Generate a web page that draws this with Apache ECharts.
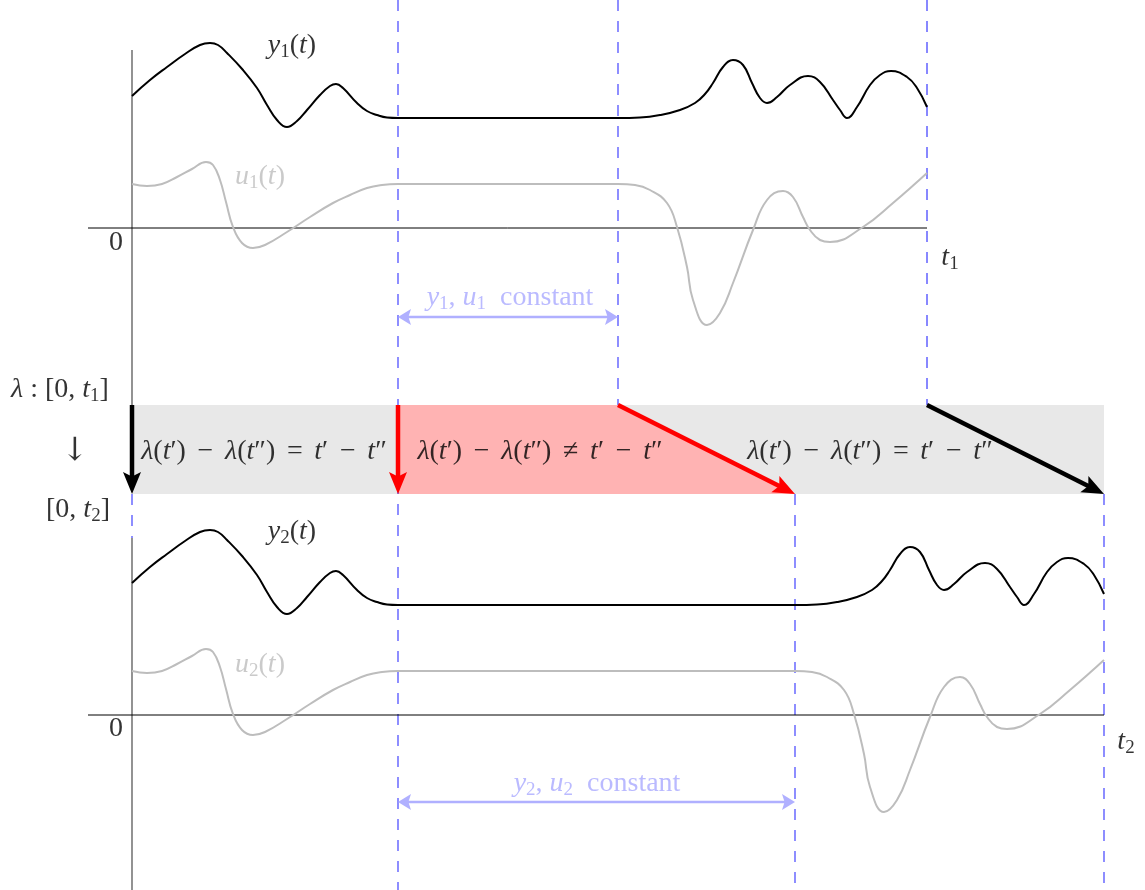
<!DOCTYPE html>
<html>
<head>
<meta charset="utf-8">
<script src="https://cdn.jsdelivr.net/npm/echarts@6.0.0/dist/echarts.min.js"></script>
<style>html,body{margin:0;padding:0;background:#fff}#main{width:1145px;height:890px}</style>
</head>
<body>
<div id="main"></div>
<script>
"use strict";

// drawing units: x to the right, y downward (same size as the picture)
var y1Curve = [[132,96],[150,80],[167,67],[185,54],[200,45],[210,43],[218,45],[227,53],[243,70],[257,88],[267,105],[277,120],[287,127],[297,121],[307,110],[320,95],[330,86],[336,84],[343,88],[357,103],[367,111],[377,115],[387,117.5],[398,118],
  [618,118],[640,117.5],[660,115],[680,110],[695,103],[705,94],[713,83],[723,67],[733,60],[743,65],[752,83],[760,98],[767,103],[777,97],[790,85],[808,76],[820,82],[833,100],[840,110],[847,118],[857,107],[870,85],[880,75],[891,71],[907,77],[917,88],[927,107]];
var u1Curve = [[132,184],[147,186],[162,184],[177,177],[192,169],[206,162],[213,165],[220,180],[226,202],[233,227],[242,243],[253,248],[265,245],[287,232],[310,217],[333,203],[350,195],[367,188],[382,185],[398,184],
  [618,184],[635,185],[650,190],[667,203],[677,227],[687,267],[693,300],[707,325],[720,313],[733,283],[753,230],[767,200],[783,191],[793,197],[803,217],[810,230],[820,240],[830,242],[863,227],[893,203],[927,173]];
var y2Curve = [[132,583],[150,567],[167,554],[185,541],[200,532],[210,530],[218,532],[227,540],[243,557],[257,575],[267,592],[277,607],[287,614],[297,608],[307,597],[320,582],[330,573],[336,571],[343,575],[357,590],[367,598],[377,602],[387,604.5],[398,605],
  [795,605],[817,604.5],[837,602],[857,597],[872,590],[882,581],[890,570],[900,554],[910,547],[920,552],[929,570],[937,585],[944,590],[954,584],[967,572],[985,563],[997,569],[1010,587],[1017,597],[1024,605],[1034,594],[1047,572],[1057,562],[1068,558],[1084,564],[1094,575],[1104,594]];
var u2Curve = [[132,671],[147,673],[162,671],[177,664],[192,656],[206,649],[213,652],[220,667],[226,689],[233,714],[242,730],[253,735],[265,732],[287,719],[310,704],[333,690],[350,682],[367,675],[382,672],[398,671],
  [795,671],[812,672],[827,677],[844,690],[854,714],[864,754],[870,787],[884,812],[897,800],[910,770],[930,717],[944,687],[960,677],[970,684],[980,704],[987,717],[997,727],[1007,729],[1040,714],[1070,690],[1104,660]];

var axisSegs = [[[132,50],[132,405]], [[132,538],[132,890]], [[88,228],[927,228]], [[88,715],[1104,715]]];
var dashSegs = [[[398,0],[398,890]], [[618,0],[618,405]], [[927,0],[927,405]], [[132,494],[132,538]], [[795,494],[795,890]], [[1104,494],[1104,890]]];
var dashColors = ['#5252ff', '#5252ff', '#1010ff', '#5252ff', '#5252ff', '#5252ff'];

var bandShapes = [
  [[132,405],[1104,405],[1104,494],[132,494]],
  [[398,405],[618,405],[795,494],[398,494]]
];
var bandColors = ['#e8e8e8', '#ffb3b3'];

var mapArrows = [[132,405,132,494], [398,405,398,494], [618,405,795,494], [927,405,1104,494]];
var mapArrowColors = ['#000', '#ff0000', '#ff0000', '#000'];
var spanArrows = [[398,317,618,317], [398,802,795,802]];

var labelText = ['y1', 'u1', '0', 't1', 'c1', 'lam', 'down', 'int2', 'eq', 'neq', 'eq', 'y2', 'u2', '0', 't2', 'c2'];
var labelPos = [[292,46],[260,177],[116,243],[950,258],[510,298],[60,390],[75,452],[78,510],[264,452],[540,452],[870,452],[292,532],[260,665],[116,729],[1126,742],[597,784]];

var S = ' \u2006';
var texts = {
  y1: '{i|y}{s|1}{r|(}{i|t}{r|)}',
  u1: '{i|u}{s|1}{r|(}{i|t}{r|)}',
  y2: '{i|y}{s|2}{r|(}{i|t}{r|)}',
  u2: '{i|u}{s|2}{r|(}{i|t}{r|)}',
  '0': '{r|0}',
  t1: '{i|t}{s|1}',
  t2: '{i|t}{s|2}',
  c1: '{i|y}{s|1}{r|, }{i|u}{s|1}{r|  constant}',
  c2: '{i|y}{s|2}{r|, }{i|u}{s|2}{r|  constant}',
  lam: '{i|λ}{r| : [0, }{i|t}{s|1}{r|]}',
  down: '{b|↓}',
  int2: '{r|[0, }{i|t}{s|2}{r|]}',
  eq: '{i|λ}{r|(}{i|t}{r|′)' + S + '−' + S + '}{i|λ}{r|(}{i|t}{r|″)' + S + '=' + S + '}{i|t}{r|′' + S + '−' + S + '}{i|t}{r|″}',
  neq: '{i|λ}{r|(}{i|t}{r|′)' + S + '−' + S + '}{i|λ}{r|(}{i|t}{r|″)' + S + '≠' + S + '}{i|t}{r|′' + S + '−' + S + '}{i|t}{r|″}'
};

function labelColor(key) {
  if (key === 'u1' || key === 'u2') return '#bdbdbd';
  if (key === 'c1' || key === 'c2') return '#a9a9ff';
  return '#000';
}

function richFor(color) {
  var f = 'Liberation Serif';
  return {
    r: {fontFamily: f, fontSize: 28, lineHeight: 32, color: color},
    i: {fontFamily: f, fontSize: 28, lineHeight: 32, fontStyle: 'italic', color: color},
    s: {fontFamily: f, fontSize: 19, lineHeight: 19, verticalAlign: 'bottom', color: color},
    b: {fontFamily: 'DejaVu Serif', fontSize: 32, lineHeight: 32, color: color}
  };
}

function arrowHead(tip, d, L, W) {
  var bx = tip[0] - d[0] * L, by = tip[1] - d[1] * L;
  return [tip, [bx - d[1] * W, by + d[0] * W], [tip[0] - d[0] * L * 0.8, tip[1] - d[1] * L * 0.8], [bx + d[1] * W, by - d[0] * W]];
}

function makeArrowRender(colors, width, L, W, both) {
  return function (params, api) {
    var p0 = api.coord([api.value(0), api.value(1)]);
    var p1 = api.coord([api.value(2), api.value(3)]);
    var dx = p1[0] - p0[0], dy = p1[1] - p0[1];
    var len = Math.sqrt(dx * dx + dy * dy);
    var d = [dx / len, dy / len];
    var color = colors[params.dataIndex] || colors[0];
    var s0 = both ? [p0[0] + d[0] * L * 0.7, p0[1] + d[1] * L * 0.7] : p0;
    var s1 = [p1[0] - d[0] * L * 0.7, p1[1] - d[1] * L * 0.7];
    var children = [
      {type: 'line', shape: {x1: s0[0], y1: s0[1], x2: s1[0], y2: s1[1]}, style: {stroke: color, lineWidth: width}},
      {type: 'polygon', shape: {points: arrowHead(p1, d, L, W)}, style: {fill: color}}
    ];
    if (both) {
      children.push({type: 'polygon', shape: {points: arrowHead(p0, [-d[0], -d[1]], L, W)}, style: {fill: color}});
    }
    return {type: 'group', children: children};
  };
}

var series = [];

series.push({
  type: 'custom',
  coordinateSystem: 'cartesian2d',
  clip: false,
  z: 1,
  data: bandShapes.map(function (s) { return s[0]; }),
  renderItem: function (params, api) {
    var pts = bandShapes[params.dataIndex].map(function (p) { return api.coord(p); });
    return {type: 'polygon', shape: {points: pts}, style: {fill: bandColors[params.dataIndex]}};
  }
});

dashSegs.forEach(function (seg, k) {
  series.push({
    type: 'line', data: seg, showSymbol: false, silent: true, z: 2,
    lineStyle: {color: dashColors[k], width: k === 2 ? 1 : 1.3, type: [11, 10]}
  });
});

axisSegs.forEach(function (seg, k) {
  series.push({
    type: 'line', data: seg, showSymbol: false, silent: true, z: 3,
    lineStyle: {color: k < 2 ? '#4a4a4a' : '#000', width: k < 2 ? 1.2 : 1}
  });
});

[[u1Curve, '#bdbdbd'], [u2Curve, '#bdbdbd'], [y1Curve, '#000'], [y2Curve, '#000']].forEach(function (c) {
  series.push({
    type: 'line', data: c[0], showSymbol: false, silent: true, z: 4,
    smooth: 0.45,
    lineStyle: {color: c[1], width: 2}
  });
});

series.push({
  type: 'custom', coordinateSystem: 'cartesian2d', clip: false, z: 5,
  data: mapArrows,
  renderItem: makeArrowRender(mapArrowColors, 4.5, 22, 9, false)
});
series.push({
  type: 'custom', coordinateSystem: 'cartesian2d', clip: false, z: 5,
  data: spanArrows,
  renderItem: makeArrowRender(['#b0b0ff'], 2.5, 13, 8, true)
});

series.push({
  type: 'scatter', symbolSize: 1, silent: true, z: 6,
  itemStyle: {color: 'rgba(0,0,0,0)'},
  data: labelText.map(function (key, k) {
    var col = labelColor(key);
    return {
      value: labelPos[k],
      label: {show: true, position: 'inside', formatter: texts[key], color: col, rich: richFor(col)}
    };
  })
});

var chart = echarts.init(document.getElementById('main'));
chart.setOption({
  animation: false,
  backgroundColor: '#fff',
  grid: {left: 0, right: 0, top: 0, bottom: 0},
  xAxis: {type: 'value', min: 0, max: 1145, show: false},
  yAxis: {type: 'value', min: 0, max: 890, inverse: true, show: false},
  series: series
});
</script>
</body>
</html>
